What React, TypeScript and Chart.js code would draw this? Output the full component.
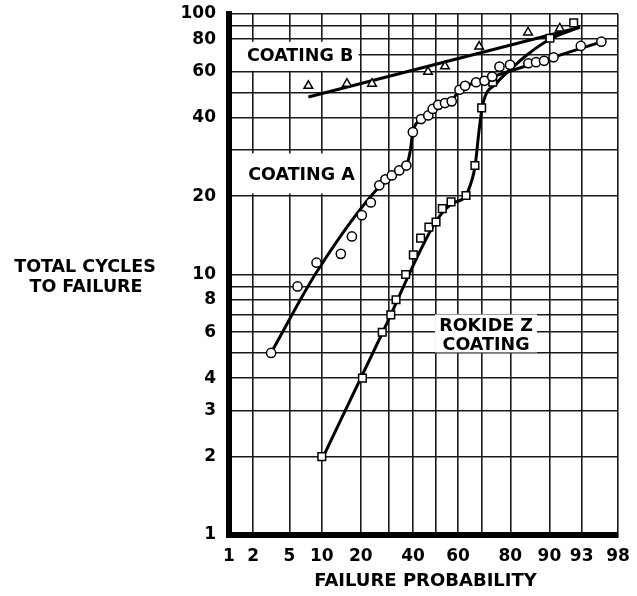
import React, { useEffect, useRef } from 'react';
import { Chart, registerables } from 'chart.js';

Chart.register(...registerables);

// ---------- data (failure probability in %, total cycles to failure) ----------
const xGridProbs = [1, 2, 5, 10, 20, 30, 40, 50, 60, 70, 80, 90, 95, 98];
const xTickLabels = ['1', '2', '5', '10', '20', '', '40', '', '60', '', '80', '90', '93', '98'];
const yGridValues = [1, 2, 3, 4, 5, 6, 7, 8, 9, 10, 20, 30, 40, 50, 60, 70, 80, 90, 100];
const yTickLabels = ['1', '2', '3', '4', '', '6', '', '8', '', '10', '20', '', '40', '', '60', '', '80', '', '100'];

const coatingBProb = [7.6, 15.9, 23.7, 46.6, 54.2, 68.8, 85.1, 91.9];
const coatingBCycles = [53, 54, 54, 60, 63, 75, 85, 88];
const coatingBLineProb = [7.6, 94.8];
const coatingBLineCycles = [48, 89];

const coatingAProb = [3.2, 6.0, 9.0, 14.3, 17.3, 20.3, 23.3, 26.3, 28.6, 31.1, 34.1, 37.1, 39.9, 43.5, 46.7, 48.7, 51.2, 54.2, 57.2, 60.6, 63.0, 67.6, 70.9, 73.8, 76.4, 79.9, 85.2, 87.1, 88.9, 90.8, 94.9, 96.9];
const coatingACycles = [5.0, 9.0, 11.1, 12.0, 14.0, 16.9, 18.9, 22.0, 23.2, 24.0, 25.1, 26.2, 35.2, 39.5, 40.8, 43.2, 44.8, 45.5, 46.2, 51.2, 53.0, 54.7, 55.4, 57.5, 62.8, 63.8, 64.7, 65.3, 66.1, 68.2, 75.4, 78.3];
const coatingAFitProb = [3.2, 9.0, 26.6, 34.1, 37.4, 38.7, 39.9, 43.5, 49.8, 57.1, 60.0, 63.0, 68.0, 73.8, 79.0, 96.9];
const coatingAFitCycles = [5.0, 10.2, 21.9, 25.1, 26.6, 29.6, 35.2, 39.3, 43.6, 46.2, 50.3, 52.7, 54.9, 57.4, 59.9, 78.2];

const rokideProb = [10, 20.5, 27.4, 30.7, 32.8, 36.8, 40.1, 43.3, 47.0, 50.2, 53.0, 56.9, 63.4, 67.1, 69.8, 74.0, 90.1, 94.0];
const rokideCycles = [2.0, 4.0, 6.0, 7.0, 8.0, 10.0, 11.9, 13.8, 15.2, 15.9, 17.9, 19.0, 20.1, 26.2, 43.6, 54.7, 80.7, 92.4];
const rokideFitProb = [10.3, 27.4, 50.2, 57.3, 63.0, 65.9, 67.2, 68.8, 70.2, 75.4, 79.9, 84.8, 90.1, 94.8];
const rokideFitCycles = [2.0, 5.95, 16.0, 18.7, 19.9, 23.1, 26.2, 35.9, 44.8, 54.2, 61.0, 69.6, 80.0, 89.0];

// ---------- normal probability transform ----------
function normInv(p: number): number {
  const a = [-3.969683028665376e1, 2.209460984245205e2, -2.759285104469687e2, 1.38357751867269e2, -3.066479806614716e1, 2.506628277459239];
  const b = [-5.447609879822406e1, 1.615858368580409e2, -1.556989798598866e2, 6.680131188771972e1, -1.328068155288572e1];
  const c = [-7.784894002430293e-3, -3.223964580411365e-1, -2.400758277161838, -2.549732539343734, 4.374664141464968, 2.938163982698783];
  const d = [7.784695709041462e-3, 3.224671290700398e-1, 2.445134137142996, 3.754408661907416];
  const pLow = 0.02425;
  if (p < pLow) {
    const q = Math.sqrt(-2 * Math.log(p));
    return (((((c[0] * q + c[1]) * q + c[2]) * q + c[3]) * q + c[4]) * q + c[5]) / ((((d[0] * q + d[1]) * q + d[2]) * q + d[3]) * q + 1);
  }
  if (p <= 1 - pLow) {
    const q = p - 0.5;
    const r = q * q;
    return ((((((a[0] * r + a[1]) * r + a[2]) * r + a[3]) * r + a[4]) * r + a[5]) * q) / (((((b[0] * r + b[1]) * r + b[2]) * r + b[3]) * r + b[4]) * r + 1);
  }
  const q = Math.sqrt(-2 * Math.log(1 - p));
  return -(((((c[0] * q + c[1]) * q + c[2]) * q + c[3]) * q + c[4]) * q + c[5]) / ((((d[0] * q + d[1]) * q + d[2]) * q + d[3]) * q + 1);
}
const zOf = (pct: number) => normInv(pct / 100);
const pts = (ps: number[], vs: number[]) => ps.map((p, i) => ({ x: zOf(p), y: vs[i] }));

const FONT = 'DejaVu Sans';

const annotations = [
  { lines: ['COATING B'], p: 6.35, v: 68.8, box: [-69.5, -14.5, 58.5, 14.5] },
  { lines: ['COATING A'], p: 6.55, v: 23.9, box: [-71.5, -22.5, 58.5, 17.5] },
  { lines: ['ROKIDE Z', 'COATING'], p: 71.5, v: 5.81, box: [-51, -21.5, 51, 16.5] },
];

const textPlugin = {
  id: 'textPlugin',
  beforeDatasetsDraw(chart: any) {
    const ctx = chart.ctx as CanvasRenderingContext2D;
    const xs = chart.scales.x;
    const ys = chart.scales.y;
    ctx.save();
    ctx.font = `bold 17.5px "${FONT}"`;
    ctx.textAlign = 'center';
    ctx.textBaseline = 'middle';
    for (const a of annotations) {
      const cx = xs.getPixelForValue(zOf(a.p));
      const cy = ys.getPixelForValue(a.v);
      ctx.fillStyle = '#fff';
      const left = Math.max(cx + a.box[0], chart.chartArea.left + 3);
      ctx.fillRect(left, cy + a.box[1], cx + a.box[2] - left, a.box[3] - a.box[1]);
      ctx.fillStyle = '#000';
      const n = a.lines.length;
      a.lines.forEach((t, i) => {
        ctx.fillText(t, cx, cy + (i - (n - 1) / 2) * 19.5);
      });
    }
    ctx.restore();
  },
  afterDraw(chart: any) {
    const ctx = chart.ctx as CanvasRenderingContext2D;
    ctx.save();
    ctx.fillStyle = '#000';
    ctx.textAlign = 'center';
    ctx.textBaseline = 'middle';
    ctx.font = `bold 17.5px "${FONT}"`;
    ctx.fillText('TOTAL CYCLES', 85, 267);
    ctx.fillText('TO FAILURE', 86, 287);
    ctx.font = `bold 18px "${FONT}"`;
    const ca = chart.chartArea;
    ctx.fillText('FAILURE PROBABILITY', (ca.left + ca.right) / 2 + 2, 581);
    ctx.restore();
  },
};

export default function App() {
  const ref = useRef<HTMLCanvasElement>(null);
  useEffect(() => {
    const canvas = ref.current;
    if (!canvas) return;
    const tickFont = { family: FONT, weight: 'bold' as const, size: 17 };
    const chart = new Chart(canvas, {
      type: 'line',
      data: {
        datasets: [
          {
            label: 'Coating B',
            data: pts(coatingBProb, coatingBCycles),
            showLine: false,
            pointStyle: 'triangle',
            pointRadius: 5,
            pointBorderWidth: 1.5,
            pointBorderColor: '#000',
            pointBackgroundColor: '#fff',
            order: 0,
          },
          {
            label: 'Coating A',
            data: pts(coatingAProb, coatingACycles),
            showLine: false,
            pointStyle: 'circle',
            pointRadius: 4.6,
            pointBorderWidth: 1.5,
            pointBorderColor: '#000',
            pointBackgroundColor: '#fff',
            order: 0,
          },
          {
            label: 'Rokide Z',
            data: pts(rokideProb, rokideCycles),
            showLine: false,
            pointStyle: 'rect',
            pointRadius: 5.4,
            pointBorderWidth: 1.5,
            pointBorderColor: '#000',
            pointBackgroundColor: '#fff',
            order: 0,
          },
          {
            label: 'Coating B fit',
            data: pts(coatingBLineProb, coatingBLineCycles),
            borderColor: '#000',
            borderWidth: 3,
            pointRadius: 0,
            tension: 0,
            fill: false,
            order: 1,
          },
          {
            label: 'Coating A fit',
            data: pts(coatingAFitProb, coatingAFitCycles),
            borderColor: '#000',
            borderWidth: 3,
            pointRadius: 0,
            cubicInterpolationMode: 'monotone',
            fill: false,
            order: 1,
          },
          {
            label: 'Rokide Z fit',
            data: pts(rokideFitProb, rokideFitCycles),
            borderColor: '#000',
            borderWidth: 3,
            pointRadius: 0,
            cubicInterpolationMode: 'monotone',
            fill: false,
            order: 1,
          },
        ],
      },
      options: {
        responsive: false,
        animation: false,
        events: [],
        layout: { padding: { top: 14, right: 19, left: 0, bottom: 0 } },
        plugins: { legend: { display: false }, tooltip: { enabled: false }, title: { display: false } },
        scales: {
          x: {
            type: 'linear',
            min: zOf(xGridProbs[0]),
            max: zOf(xGridProbs[xGridProbs.length - 1]),
            afterBuildTicks: (s: any) => {
              s.ticks = xGridProbs.map((p) => ({ value: zOf(p) }));
            },
            afterFit: (s: any) => {
              s.height = 61;
              s.paddingLeft = 0;
              s.paddingRight = 0;
            },
            ticks: {
              callback: (_v: any, i: number) => xTickLabels[i],
              autoSkip: false,
              maxRotation: 0,
              minRotation: 0,
              padding: 11,
              color: '#000',
              font: tickFont,
            },
            grid: { color: '#1a1a1a', lineWidth: 1.6, drawTicks: false },
            border: { display: true, color: '#000', width: 6 },
          },
          y: {
            type: 'logarithmic',
            min: 1,
            max: 100,
            afterBuildTicks: (s: any) => {
              s.ticks = yGridValues.map((v) => ({ value: v }));
            },
            afterFit: (s: any) => {
              s.width = 229;
              s.paddingTop = 0;
              s.paddingBottom = 0;
            },
            ticks: {
              callback: (_v: any, i: number) => yTickLabels[i],
              autoSkip: false,
              padding: 13,
              color: '#000',
              font: tickFont,
            },
            grid: { color: '#1a1a1a', lineWidth: 1.6, drawTicks: false },
            border: { display: true, color: '#000', width: 6 },
          },
        },
      },
      plugins: [textPlugin],
    } as any);
    return () => chart.destroy();
  }, []);
  return (
    <div style={{ position: 'absolute', left: 0, top: 0, width: 637, height: 596, background: '#fff' }}>
      <canvas ref={ref} width={637} height={596} style={{ display: 'block', width: 637, height: 596 }} />
    </div>
  );
}
